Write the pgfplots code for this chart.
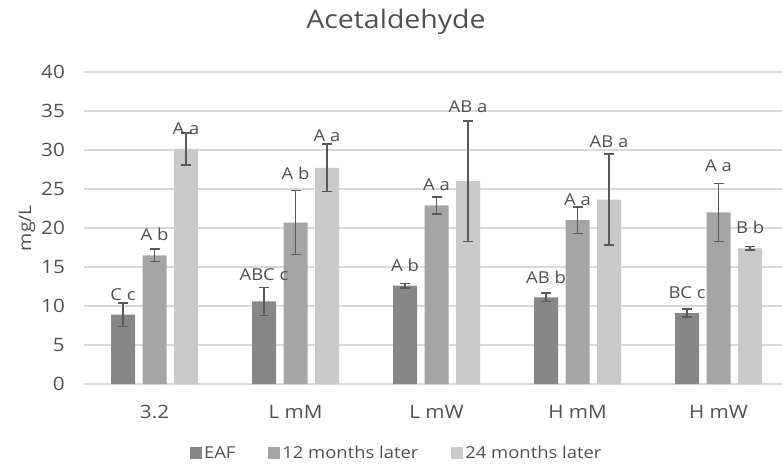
\documentclass[border=0pt]{standalone}
\usepackage{fontspec}
\setmainfont{Open Sans}[FakeStretch=1.12]
\usepackage{pgfplots}
\pgfplotsset{compat=1.18}
\definecolor{cA}{HTML}{878787}
\definecolor{cB}{HTML}{A5A5A5}
\definecolor{cC}{HTML}{C9C9C9}
\definecolor{txt}{HTML}{505050}
\definecolor{gridc}{HTML}{D9D9D9}
\definecolor{errc}{HTML}{595959}
\begin{document}
\begin{tikzpicture}
\begin{axis}[
  scale only axis, width=698bp, height=312bp,
  xmin=-0.5, xmax=4.45, ymin=0, ymax=40,
  ybar, bar width=24bp,
  xtick={0,1,2,3,4}, xticklabels={3.2, L mM, L mW, H mM, H mW},
  ytick={0,5,...,40},
  /pgf/number format/assume math mode=true,
  axis line style={draw=none},
  ymajorgrids, grid style={gridc, line width=1.3bp},
  major tick length=0pt,
  tick label style={font=\fontsize{18.5}{18.5}\selectfont, text=txt},
  xticklabel style={anchor=north, inner sep=0pt, yshift=-21bp},
  yticklabel style={anchor=east, inner sep=0pt, xshift=-19bp},
  title=Acetaldehyde,
  title style={font=\fontsize{25.5}{25.5}\selectfont, text=txt, at={(0.447,1.1208)}, anchor=base},
  ylabel=mg/L,
  ylabel style={font=\fontsize{17.5}{17.5}\selectfont, text=txt, at={(axis description cs:-0.0817,0.5)}, anchor=center},
  error bars/error bar style={errc, line width=1.5bp},
  error bars/error mark options={errc, line width=1.5bp, mark size=5bp, rotate=90},
  every node near coord/.append style={inner sep=0pt, font=\fontsize{16.5}{16.5}\selectfont, text=txt},
  legend style={at={(0.448,-0.221)}, anchor=center, legend columns=3, draw=none, fill=none,
    font=\fontsize{16.5}{16.5}\selectfont, text=txt,
    /tikz/every even column/.append style={column sep=31bp}},
  legend image code/.code={\fill[#1] (0bp,-6bp) rectangle (12bp,6bp);},
]
\addplot[fill=cA, draw=none, bar shift=-31.5bp, error bars/.cd, y dir=both, y explicit]
  coordinates {(0,8.9) +- (0,1.5) (1,10.6) +- (0,1.8) (2,12.6) +- (0,0.3) (3,11.1) +- (0,0.55) (4,9.1) +- (0,0.5)};
\addplot[fill=cB, draw=none, bar shift=0bp, error bars/.cd, y dir=both, y explicit]
  coordinates {(0,16.5) +- (0,0.8) (1,20.7) +- (0,4.1) (2,22.9) +- (0,1.1) (3,21.0) +- (0,1.7) (4,22.0) +- (0,3.7)};
\addplot[fill=cC, draw=none, bar shift=31.5bp, error bars/.cd, y dir=both, y explicit]
  coordinates {(0,30.15) +- (0,2.05) (1,27.7) +- (0,3.05) (2,26.0) +- (0,7.7) (3,23.65) +- (0,5.85) (4,17.4) +- (0,0.2)};
\legend{EAF, 12 months later, 24 months later}
\addplot[forget plot, draw=none, fill=none, bar shift=-31.5bp, nodes near coords, point meta=explicit symbolic]
  coordinates {(0,10.6) [C c] (1,13.2) [ABC c] (2,14.4) [A b] (3,12.9) [AB b] (4,10.9) [BC c]};
\addplot[forget plot, draw=none, fill=none, bar shift=0bp, nodes near coords, point meta=explicit symbolic]
  coordinates {(0,18.4) [A b] (1,26.2) [A b] (2,24.7) [A a] (3,22.9) [A a] (4,27.2) [A a]};
\addplot[forget plot, draw=none, fill=none, bar shift=31.5bp, nodes near coords, point meta=explicit symbolic]
  coordinates {(0,32.0) [A a] (1,31.0) [A a] (2,34.7) [AB a] (3,30.3) [AB a] (4,19.3) [B b]};
\end{axis}
\pgfresetboundingbox
\path[use as bounding box] (-84bp,-82bp) rectangle (698bp,384bp);
\end{tikzpicture}
\end{document}
